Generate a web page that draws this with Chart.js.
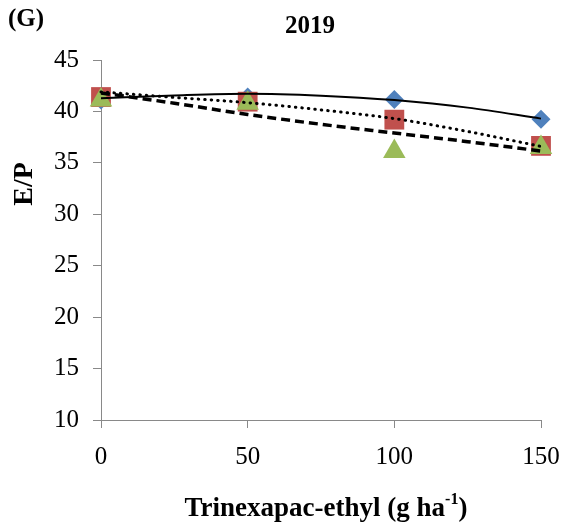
<!DOCTYPE html>
<html>
<head>
<meta charset="utf-8">
<script src="https://cdn.jsdelivr.net/npm/chart.js@4/dist/chart.umd.min.js"></script>
<style>
  html, body { margin: 0; padding: 0; background: #fff; }
  #wrap { width: 563px; height: 530px; position: relative; }
</style>
</head>
<body>
<div id="wrap"><canvas id="c" width="563" height="530"></canvas></div>
<script>
// Observed data (Trinexapac-ethyl rate, g ha-1)
const doses = [0, 50, 100, 150];
const seriesBlue = [41.1, 41.4, 41.15, 39.25];
const seriesRed = [41.4, 40.95, 39.2, 36.65];
const seriesGreen = [41.1, 40.8, 36.1, 36.5];

// Trend curves
const trendX = [0, 25, 50, 75, 100, 125, 150];
const trendSolid = [41.27, 41.55, 41.72, 41.53, 41.1, 40.37, 39.3];
const trendDotted = [41.9, 41.36, 40.85, 40.15, 39.3, 38.05, 36.6];
const trendDashed = [41.8, 40.8, 39.7, 38.75, 37.9, 37.06, 36.15];

const yTicks = [10, 15, 20, 25, 30, 35, 40, 45];
const xTicks = [0, 50, 100, 150];

const panelLabel = '(G)';
const chartTitle = '2019';
const yTitle = 'E/P';
const xTitleMain = 'Trinexapac-ethyl (g ha';
const xTitleSup = '-1';
const xTitleEnd = ')';

const toXY = (xs, ys) => xs.map((x, i) => ({ x: x, y: ys[i] }));
const SERIF = '"Liberation Serif", "Times New Roman", serif';
const AXIS = '#898989';

const textPlugin = {
  id: 'texts',
  afterDraw(chart) {
    const ctx = chart.ctx;
    ctx.save();
    ctx.fillStyle = '#000';
    ctx.textBaseline = 'middle';
    // panel label
    ctx.font = 'bold 25px ' + SERIF;
    ctx.textAlign = 'left';
    ctx.fillText(panelLabel, 8, 20);
    // title
    ctx.font = 'bold 25px ' + SERIF;
    ctx.textAlign = 'center';
    ctx.fillText(chartTitle, 310, 27);
    // y title
    ctx.save();
    ctx.translate(25, 184);
    ctx.rotate(-Math.PI / 2);
    ctx.font = 'bold 28px ' + SERIF;
    ctx.textAlign = 'center';
    ctx.fillText(yTitle, 0, 0);
    ctx.restore();
    // x title with superscript
    const big = 'bold 27px ' + SERIF;
    const small = 'bold 16px ' + SERIF;
    ctx.font = big;
    const w1 = ctx.measureText(xTitleMain).width;
    const w3 = ctx.measureText(xTitleEnd).width;
    ctx.font = small;
    const w2 = ctx.measureText(xTitleSup).width;
    const total = w1 + w2 + w3;
    let x0 = 326 - total / 2;
    const yb = 509;
    ctx.textAlign = 'left';
    ctx.font = big;
    ctx.fillText(xTitleMain, x0, yb);
    ctx.font = small;
    ctx.fillText(xTitleSup, x0 + w1, yb - 9);
    ctx.font = big;
    ctx.fillText(xTitleEnd, x0 + w1 + w2, yb);
    ctx.restore();
  }
};

const trendCommon = {
  type: 'line', showLine: true, pointRadius: 0, borderColor: '#000',
  fill: false, cubicInterpolationMode: 'monotone', order: 0, clip: false
};

new Chart(document.getElementById('c'), {
  type: 'scatter',
  data: {
    datasets: [
      Object.assign({}, trendCommon, { data: toXY(trendX, trendSolid), borderWidth: 2 }),
      Object.assign({}, trendCommon, { data: toXY(trendX, trendDotted), borderWidth: 3, borderDash: [0.5, 6], borderCapStyle: 'round' }),
      Object.assign({}, trendCommon, { data: toXY(trendX, trendDashed), borderWidth: 3.5, borderDash: [9, 5] }),
      { data: toXY(doses, seriesBlue), pointStyle: 'rectRot', pointRadius: 9.5, backgroundColor: '#4F81BD', borderColor: '#4F81BD', borderWidth: 0, order: 3, clip: false },
      { data: toXY(doses, seriesRed), pointStyle: 'rect', pointRadius: 14, backgroundColor: '#C0504D', borderColor: '#C0504D', borderWidth: 0, order: 2, clip: false },
      { data: toXY(doses, seriesGreen), pointStyle: 'triangle', pointRadius: 13, backgroundColor: '#9BBB59', borderColor: '#9BBB59', borderWidth: 0, order: 1, clip: false }
    ]
  },
  options: {
    responsive: false,
    animation: false,
    events: [],
    layout: { padding: { left: 0, right: 22, top: 60, bottom: 0 } },
    plugins: { legend: { display: false }, tooltip: { enabled: false }, title: { display: false } },
    scales: {
      x: {
        type: 'linear', min: 0, max: 150,
        afterBuildTicks(s) { s.ticks = xTicks.map(v => ({ value: v })); },
        afterFit(s) { s.height = 110; s.paddingLeft = 0; s.paddingRight = 0; },
        grid: { drawOnChartArea: false, drawTicks: true, tickLength: 8, tickColor: AXIS },
        border: { color: AXIS, width: 1 },
        ticks: { color: '#000', font: { family: SERIF, size: 25 }, padding: 14, maxRotation: 0 }
      },
      y: {
        type: 'linear', min: 10, max: 45,
        afterBuildTicks(s) { s.ticks = yTicks.map(v => ({ value: v })); },
        afterFit(s) { s.width = 101; s.paddingTop = 0; s.paddingBottom = 0; },
        grid: { drawOnChartArea: false, drawTicks: true, tickLength: 8, tickColor: AXIS },
        border: { color: AXIS, width: 1 },
        ticks: { color: '#000', font: { family: SERIF, size: 25 }, padding: 14 }
      }
    }
  },
  plugins: [textPlugin]
});
</script>
</body>
</html>
